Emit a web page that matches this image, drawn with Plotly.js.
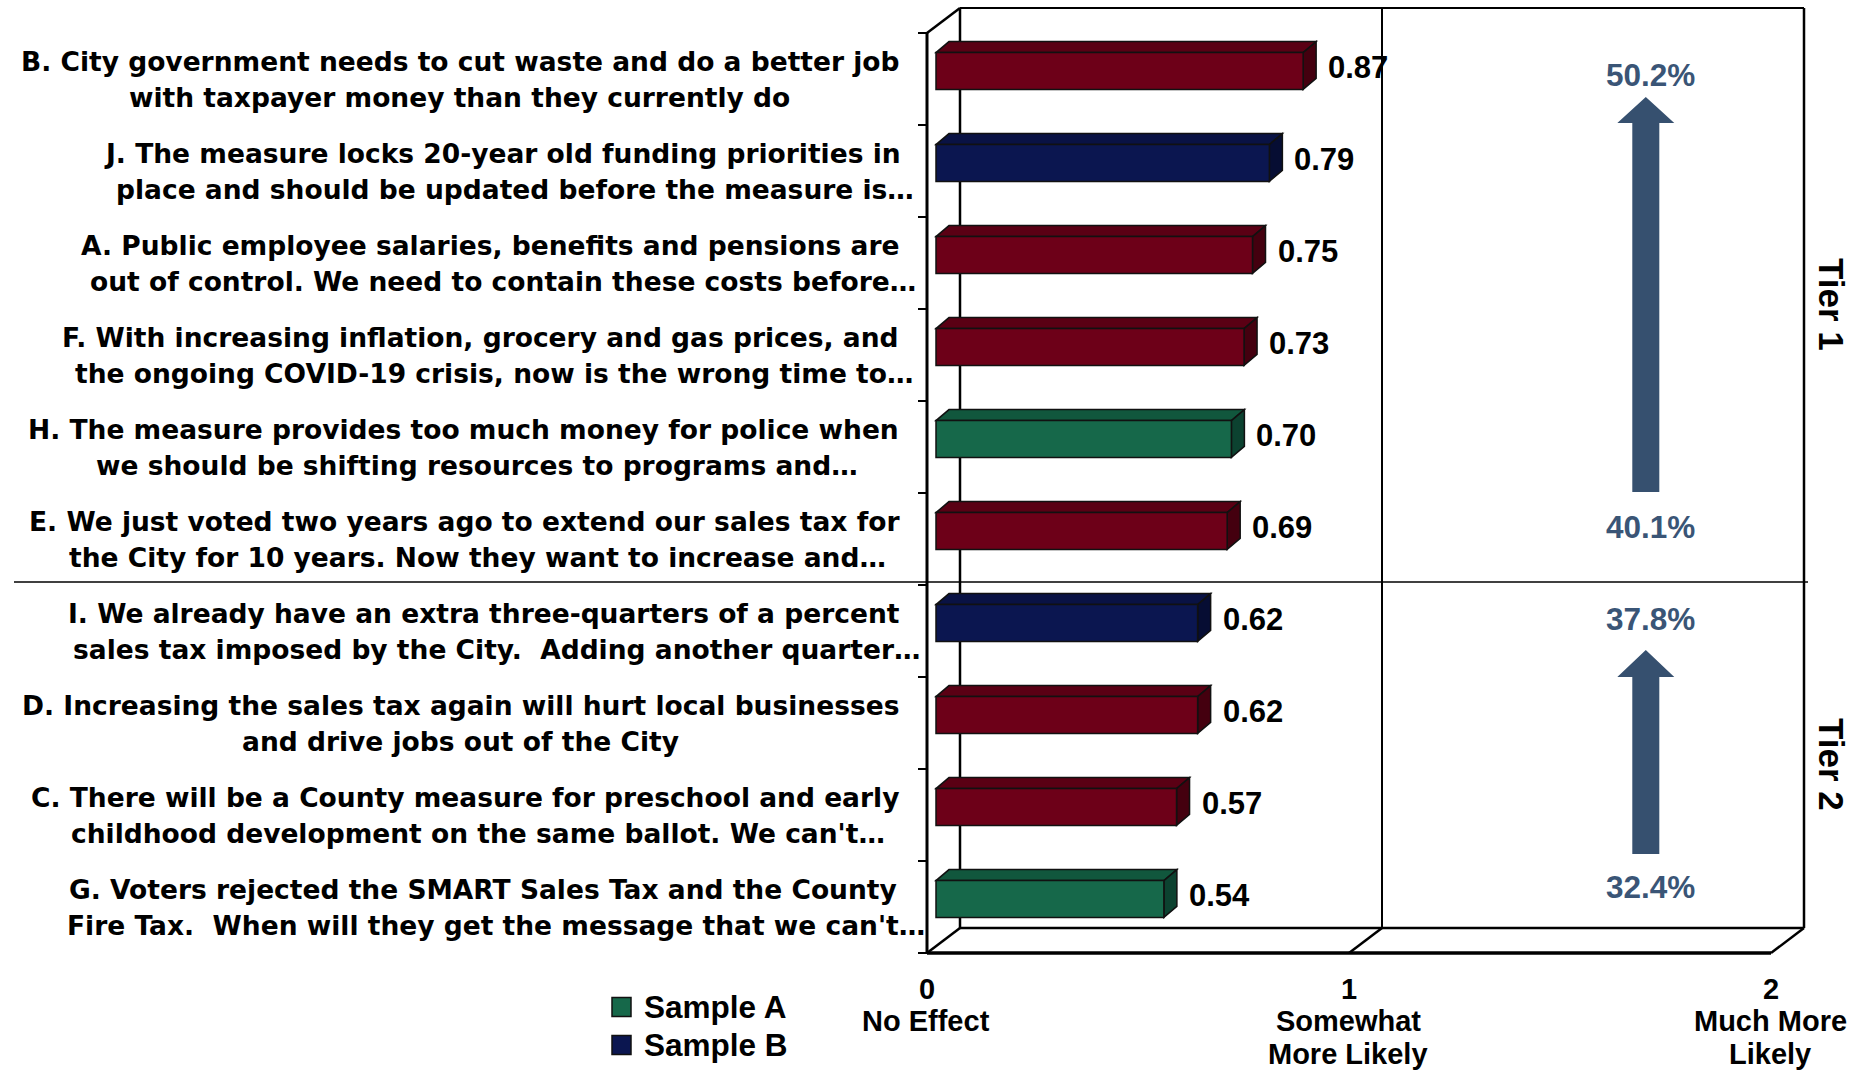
<!DOCTYPE html>
<html>
<head>
<meta charset="utf-8">
<script src="https://cdn.plot.ly/plotly-3.0.1.min.js"></script>
<style>
  body { margin: 0; background: #fff; }
  #chart { width: 1857px; height: 1071px; }
</style>
</head>
<body>
<div id="chart"></div>
<script>
// statements, top to bottom as in the chart
const statementLines = [
  ['B. City government needs to cut waste and do a better job', 'with taxpayer money than they currently do'],
  ['J. The measure locks 20-year old funding priorities in', 'place and should be updated before the measure is\u2026'],
  ['A. Public employee salaries, benefits and pensions are', 'out of control. We need to contain these costs before\u2026'],
  ['F. With increasing inflation, grocery and gas prices, and', 'the ongoing COVID-19 crisis, now is the wrong time to\u2026'],
  ['H. The measure provides too much money for police when', 'we should be shifting resources to programs and\u2026'],
  ['E. We just voted two years ago to extend our sales tax for', 'the City for 10 years. Now they want to increase and\u2026'],
  ['I. We already have an extra three-quarters of a percent', 'sales tax imposed by the City.  Adding another quarter\u2026'],
  ['D. Increasing the sales tax again will hurt local businesses', 'and drive jobs out of the City'],
  ['C. There will be a County measure for preschool and early', 'childhood development on the same ballot. We can\'t\u2026'],
  ['G. Voters rejected the SMART Sales Tax and the County', 'Fire Tax.  When will they get the message that we can\'t\u2026']
];
const scores = [0.87, 0.79, 0.75, 0.73, 0.70, 0.69, 0.62, 0.62, 0.57, 0.54];
const sampleOf = ['Both', 'Sample B', 'Both', 'Both', 'Sample A', 'Both', 'Sample B', 'Both', 'Both', 'Sample A'];

const tierNames = ['Tier 1', 'Tier 2'];
const tierRows = [[0, 5], [6, 9]];
const tierFrom = [40.1, 32.4];
const tierTo = [50.2, 37.8];

const xTickVals = [0, 1, 2];
const xTickText = ['0', '1', '2'];
const xTickNotes = [['No Effect'], ['Somewhat', 'More Likely'], ['Much More', 'Likely']];

// colours: front face, top face, side face
const groupStyle = {
  'Both':     {front: '#6d0018', top: '#5a0014', side: '#44000f', legend: false},
  'Sample A': {front: '#16684a', top: '#11573d', side: '#0c4230', legend: true},
  'Sample B': {front: '#0b1650', top: '#091244', side: '#060d33', legend: true}
};
const arrowColor = '#36506f';
const pctColor = '#3a5576';

const W = 1857, H = 1071;
// 3d offsets (data units: 422px per x unit, 92px per row)
const PX = 1 / 422, PY = 1 / 92;
const DEPTH = {x: 13 * PX, y: -11 * PY};
const FRONT = {x: -9 * PX, y: 8 * PY};
const BACK = {x: 24 * PX, y: -17 * PY};
const barWidth = 0.4;
const nRows = scores.length;
const yTop = -0.5, yBot = nRows - 0.5;

const boldArial = {family: 'Liberation Sans, Arial, sans-serif', weight: 'bold', color: '#000'};
const labelFont = {family: 'DejaVu Sans, sans-serif', size: 26.5, weight: 'bold', color: '#000'};

const traces = Object.keys(groupStyle).map(g => {
  const idx = scores.map((v, i) => i).filter(i => sampleOf[i] === g);
  return {
    type: 'bar',
    orientation: 'h',
    name: g,
    x: idx.map(i => scores[i]),
    y: idx,
    width: barWidth,
    showlegend: false,
    marker: {color: groupStyle[g].front, line: {color: '#111', width: 1.5}},
    hoverinfo: 'skip'
  };
});

const shapes = [];
function seg(x0, y0, x1, y1, w) {
  shapes.push({type: 'line', layer: 'below', xref: 'x', yref: 'y',
    x0: x0, y0: y0, x1: x1, y1: y1, line: {color: '#000', width: w}});
}

// back wall
seg(BACK.x, yTop + BACK.y, BACK.x, yBot + BACK.y, 2.5);
seg(BACK.x, yTop + BACK.y, 2 + BACK.x, yTop + BACK.y, 2);
seg(2 + BACK.x, yTop + BACK.y, 2 + BACK.x, yBot + BACK.y, 2.5);
seg(1 + BACK.x, yTop + BACK.y, 1 + BACK.x, yBot + BACK.y, 2);
seg(BACK.x, yBot + BACK.y, 2 + BACK.x, yBot + BACK.y, 2.5);
// left wall edge + ticks
seg(FRONT.x, yTop + FRONT.y, FRONT.x, yBot + FRONT.y, 3);
seg(FRONT.x, yTop + FRONT.y, BACK.x, yTop + BACK.y, 2.5);
for (let k = 0; k <= nRows; k++) {
  seg(FRONT.x - 9 * PX, k - 0.5 + FRONT.y, FRONT.x, k - 0.5 + FRONT.y, 2);
}
// floor
seg(FRONT.x, yBot + FRONT.y, 2 + FRONT.x, yBot + FRONT.y, 3.5);
xTickVals.forEach(v => seg(v + FRONT.x, yBot + FRONT.y, v + BACK.x, yBot + BACK.y, 2.5));

// tier divider
shapes.push({type: 'line', layer: 'below', xref: 'paper', yref: 'y',
  x0: 14 / W, x1: 1808 / W, y0: 5.554, y1: 5.554, line: {color: '#000', width: 1.5}});

// 3d faces of the bars
scores.forEach((v, i) => {
  const st = groupStyle[sampleOf[i]];
  const t = i - barWidth / 2, b = i + barWidth / 2;
  shapes.push({type: 'path', layer: 'below', xref: 'x', yref: 'y',
    path: `M0,${t} L${v},${t} L${v + DEPTH.x},${t + DEPTH.y} L${DEPTH.x},${t + DEPTH.y} Z`,
    fillcolor: st.top, line: {color: '#111', width: 1.5}});
  shapes.push({type: 'path', layer: 'below', xref: 'x', yref: 'y',
    path: `M${v},${t} L${v},${b} L${v + DEPTH.x},${b + DEPTH.y} L${v + DEPTH.x},${t + DEPTH.y} Z`,
    fillcolor: st.side, line: {color: '#111', width: 1.5}});
});

// tier arrows
const arrowX = 1.682, shaftHalf = 0.032, headHalf = 0.0675;
const arrowPos = [
  {tip: 0.283, base: 0.565, end: 4.576, hi: 0.043, lo: 4.957},
  {tip: 6.293, base: 6.587, end: 8.511, hi: 5.957, lo: 8.87}
];
arrowPos.forEach(a => {
  shapes.push({type: 'path', xref: 'x', yref: 'y',
    path: `M${arrowX - shaftHalf},${a.end} L${arrowX - shaftHalf},${a.base} L${arrowX - headHalf},${a.base} ` +
          `L${arrowX},${a.tip} L${arrowX + headHalf},${a.base} L${arrowX + shaftHalf},${a.base} L${arrowX + shaftHalf},${a.end} Z`,
    fillcolor: arrowColor, line: {width: 0}});
});

const annotations = [];
// statement labels: lines centred on the block, a trailing ellipsis hangs past it
const measure = document.createElement('canvas').getContext('2d');
measure.font = 'bold 26.5px "DejaVu Sans"';
const labelRight = 899, lineGap = 36;
statementLines.forEach((lines, i) => {
  const widths = lines.map(s => measure.measureText(s.replace(/\u2026$/, '')).width);
  const center = labelRight - Math.max(...widths) / 2;
  lines.forEach((s, j) => {
    annotations.push({xref: 'paper', yref: 'y', x: (center - widths[j] / 2) / W, y: i + FRONT.y,
      yshift: ((lines.length - 1) / 2 - j) * lineGap,
      xanchor: 'left', yanchor: 'middle', showarrow: false, borderpad: 0, borderwidth: 0,
      text: s, font: labelFont});
  });
});
// value labels
scores.forEach((v, i) => {
  annotations.push({xref: 'x', yref: 'y', x: v, y: i, xanchor: 'left', yanchor: 'middle',
    xshift: 23, yshift: 4, showarrow: false, text: v.toFixed(2),
    font: Object.assign({size: 31}, boldArial)});
});
// axis notes under the tick numbers
xTickNotes.forEach((lines, k) => {
  lines.forEach((ln, j) => {
    annotations.push({xref: 'x', yref: 'paper', x: xTickVals[k], xshift: -10,
      y: 1 - (1021 + j * 33) / H, yanchor: 'middle', showarrow: false, text: ln,
      font: Object.assign({size: 29}, boldArial)});
  });
});
// tier labels and percentages
tierNames.forEach((name, k) => {
  const mid = (tierRows[k][0] + tierRows[k][1]) / 2 + FRONT.y / 2;
  annotations.push({xref: 'x', yref: 'y', x: 2.123, y: mid, textangle: 90, showarrow: false,
    text: name, font: Object.assign({size: 35}, boldArial)});
  annotations.push({xref: 'x', yref: 'y', x: arrowX, xshift: 5, y: arrowPos[k].hi, showarrow: false,
    text: tierTo[k].toFixed(1) + '%', font: Object.assign({}, boldArial, {size: 31.5, color: pctColor})});
  annotations.push({xref: 'x', yref: 'y', x: arrowX, xshift: 5, y: arrowPos[k].lo, showarrow: false,
    text: tierFrom[k].toFixed(1) + '%', font: Object.assign({}, boldArial, {size: 31.5, color: pctColor})});
});
// legend (series with their own colour)
Object.keys(groupStyle).filter(g => groupStyle[g].legend).forEach((g, k) => {
  const cy = 1007 + k * 38;
  shapes.push({type: 'rect', xref: 'paper', yref: 'paper',
    x0: 612 / W, x1: 631 / W, y0: 1 - (cy - 9.5) / H, y1: 1 - (cy + 9.5) / H,
    fillcolor: groupStyle[g].front, line: {color: '#111', width: 1.5}});
  annotations.push({xref: 'paper', yref: 'paper', x: 642 / W, y: 1 - cy / H,
    xanchor: 'left', yanchor: 'middle', showarrow: false, text: g,
    font: Object.assign({size: 31.5}, boldArial)});
});

const layout = {
  width: W,
  height: H,
  margin: {l: 0, r: 0, t: 0, b: 0, autoexpand: false},
  paper_bgcolor: '#fff',
  plot_bgcolor: 'rgba(0,0,0,0)',
  barmode: 'overlay',
  showlegend: false,
  xaxis: {
    domain: [0, 1],
    range: [-936 / 422, (W - 936) / 422],
    tickvals: xTickVals,
    ticktext: xTickText,
    ticks: '',
    ticklabelshift: -9,
    ticklabelstandoff: 13,
    tickfont: Object.assign({size: 29}, boldArial),
    showgrid: false, zeroline: false, showline: false, fixedrange: true
  },
  yaxis: {
    domain: [1 - 956 / H, 1],
    range: [yBot + 11 * PY, yTop - 25 * PY],
    showticklabels: false, ticks: '',
    showgrid: false, zeroline: false, showline: false, fixedrange: true
  },
  shapes: shapes,
  annotations: annotations
};

Plotly.newPlot('chart', traces, layout, {displayModeBar: false, staticPlot: true});
</script>
</body>
</html>
